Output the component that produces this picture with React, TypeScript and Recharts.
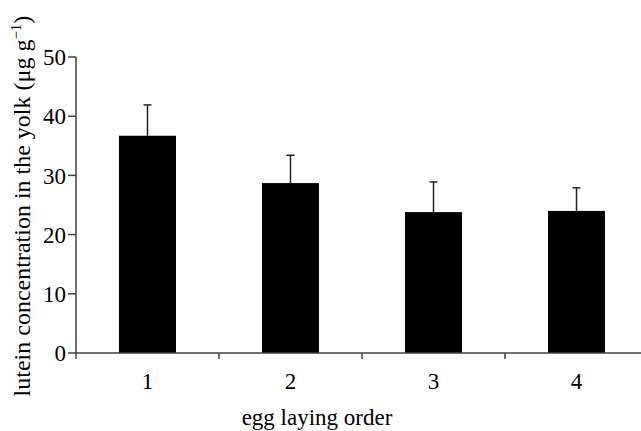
import React from 'react';
import { BarChart, Bar, XAxis, YAxis } from 'recharts';

const categories = ['1', '2', '3', '4'];
const lutein = [36.7, 28.7, 23.8, 24.0];
const sd = [5.2, 4.7, 5.1, 3.9];
const yTicks = [0, 10, 20, 30, 40, 50];

const data = categories.map((c, i) => ({
  order: c,
  lutein: lutein[i],
  sd: sd[i],
}));

const FONT = '"Liberation Serif", "Times New Roman", serif';
const AXIS = '#404040';
const FS = 23;

// bar plus an upper-only error whisker, scaled from the bar's own pixel height
function BarWithError(props: any) {
  const { x, y, width, height, payload } = props;
  const pxPerUnit = height / payload.lutein;
  const top = y - payload.sd * pxPerUnit;
  const cx = x + width / 2;
  return (
    <g>
      <rect x={x} y={y} width={width} height={height} fill="#000" />
      <line x1={cx} y1={y} x2={cx} y2={top} stroke="#222" strokeWidth={1.5} />
      <line x1={cx - 4} y1={top} x2={cx + 4} y2={top} stroke="#222" strokeWidth={1.5} />
    </g>
  );
}

function OrderTick(props: any) {
  const { x, y, payload } = props;
  const off = payload?.offset ?? 0;
  return (
    <g>
      <line x1={x - off} y1={y} x2={x - off} y2={y + 6} stroke={AXIS} strokeWidth={1.5} />
      <text x={x} y={y + 36} textAnchor="middle" fontFamily={FONT} fontSize={FS} fill="#000">
        {payload.value}
      </text>
      {payload.index === 0 && (
        <text
          x={x - off + 241}
          y={y + 72}
          textAnchor="middle"
          fontFamily={FONT}
          fontSize={FS}
          fill="#000"
        >
          egg laying order
        </text>
      )}
    </g>
  );
}

function YTitle(props: any) {
  const vb = props.viewBox;
  const cx = 30;
  const cy = vb.y + vb.height / 2 + 1;
  return (
    <text
      x={cx}
      y={cy}
      transform={`rotate(-90 ${cx} ${cy})`}
      textAnchor="middle"
      fontFamily={FONT}
      fontSize={24}
      fill="#000"
    >
      lutein concentration in the yolk (μg g
      <tspan fontSize={15} dy={-9}>−1</tspan>
      <tspan dy={9}>)</tspan>
    </text>
  );
}

export default function App() {
  return (
    <div style={{ position: 'absolute', left: 0, top: 0, width: 641, overflowX: 'clip', background: '#fff' }}>
      <BarChart
        width={648}
        height={431}
        data={data}
        margin={{ top: 57, right: 0, bottom: 0, left: 0 }}
      >
        <XAxis
          dataKey="order"
          height={78}
          stroke={AXIS}
          strokeWidth={1.5}
          tickLine={false}
          tickSize={0}
          tickMargin={0}
          tick={<OrderTick />}
          interval={0}
        />
        <YAxis
          width={76}
          domain={[0, 50]}
          ticks={yTicks}
          stroke={AXIS}
          strokeWidth={1.5}
          tickSize={8}
          tickMargin={2}
          tick={{ fill: '#000', fontFamily: FONT, fontSize: FS }}
          label={<YTitle />}
        />
        <Bar dataKey="lutein" barSize={57} shape={<BarWithError />} isAnimationActive={false} />
      </BarChart>
    </div>
  );
}
